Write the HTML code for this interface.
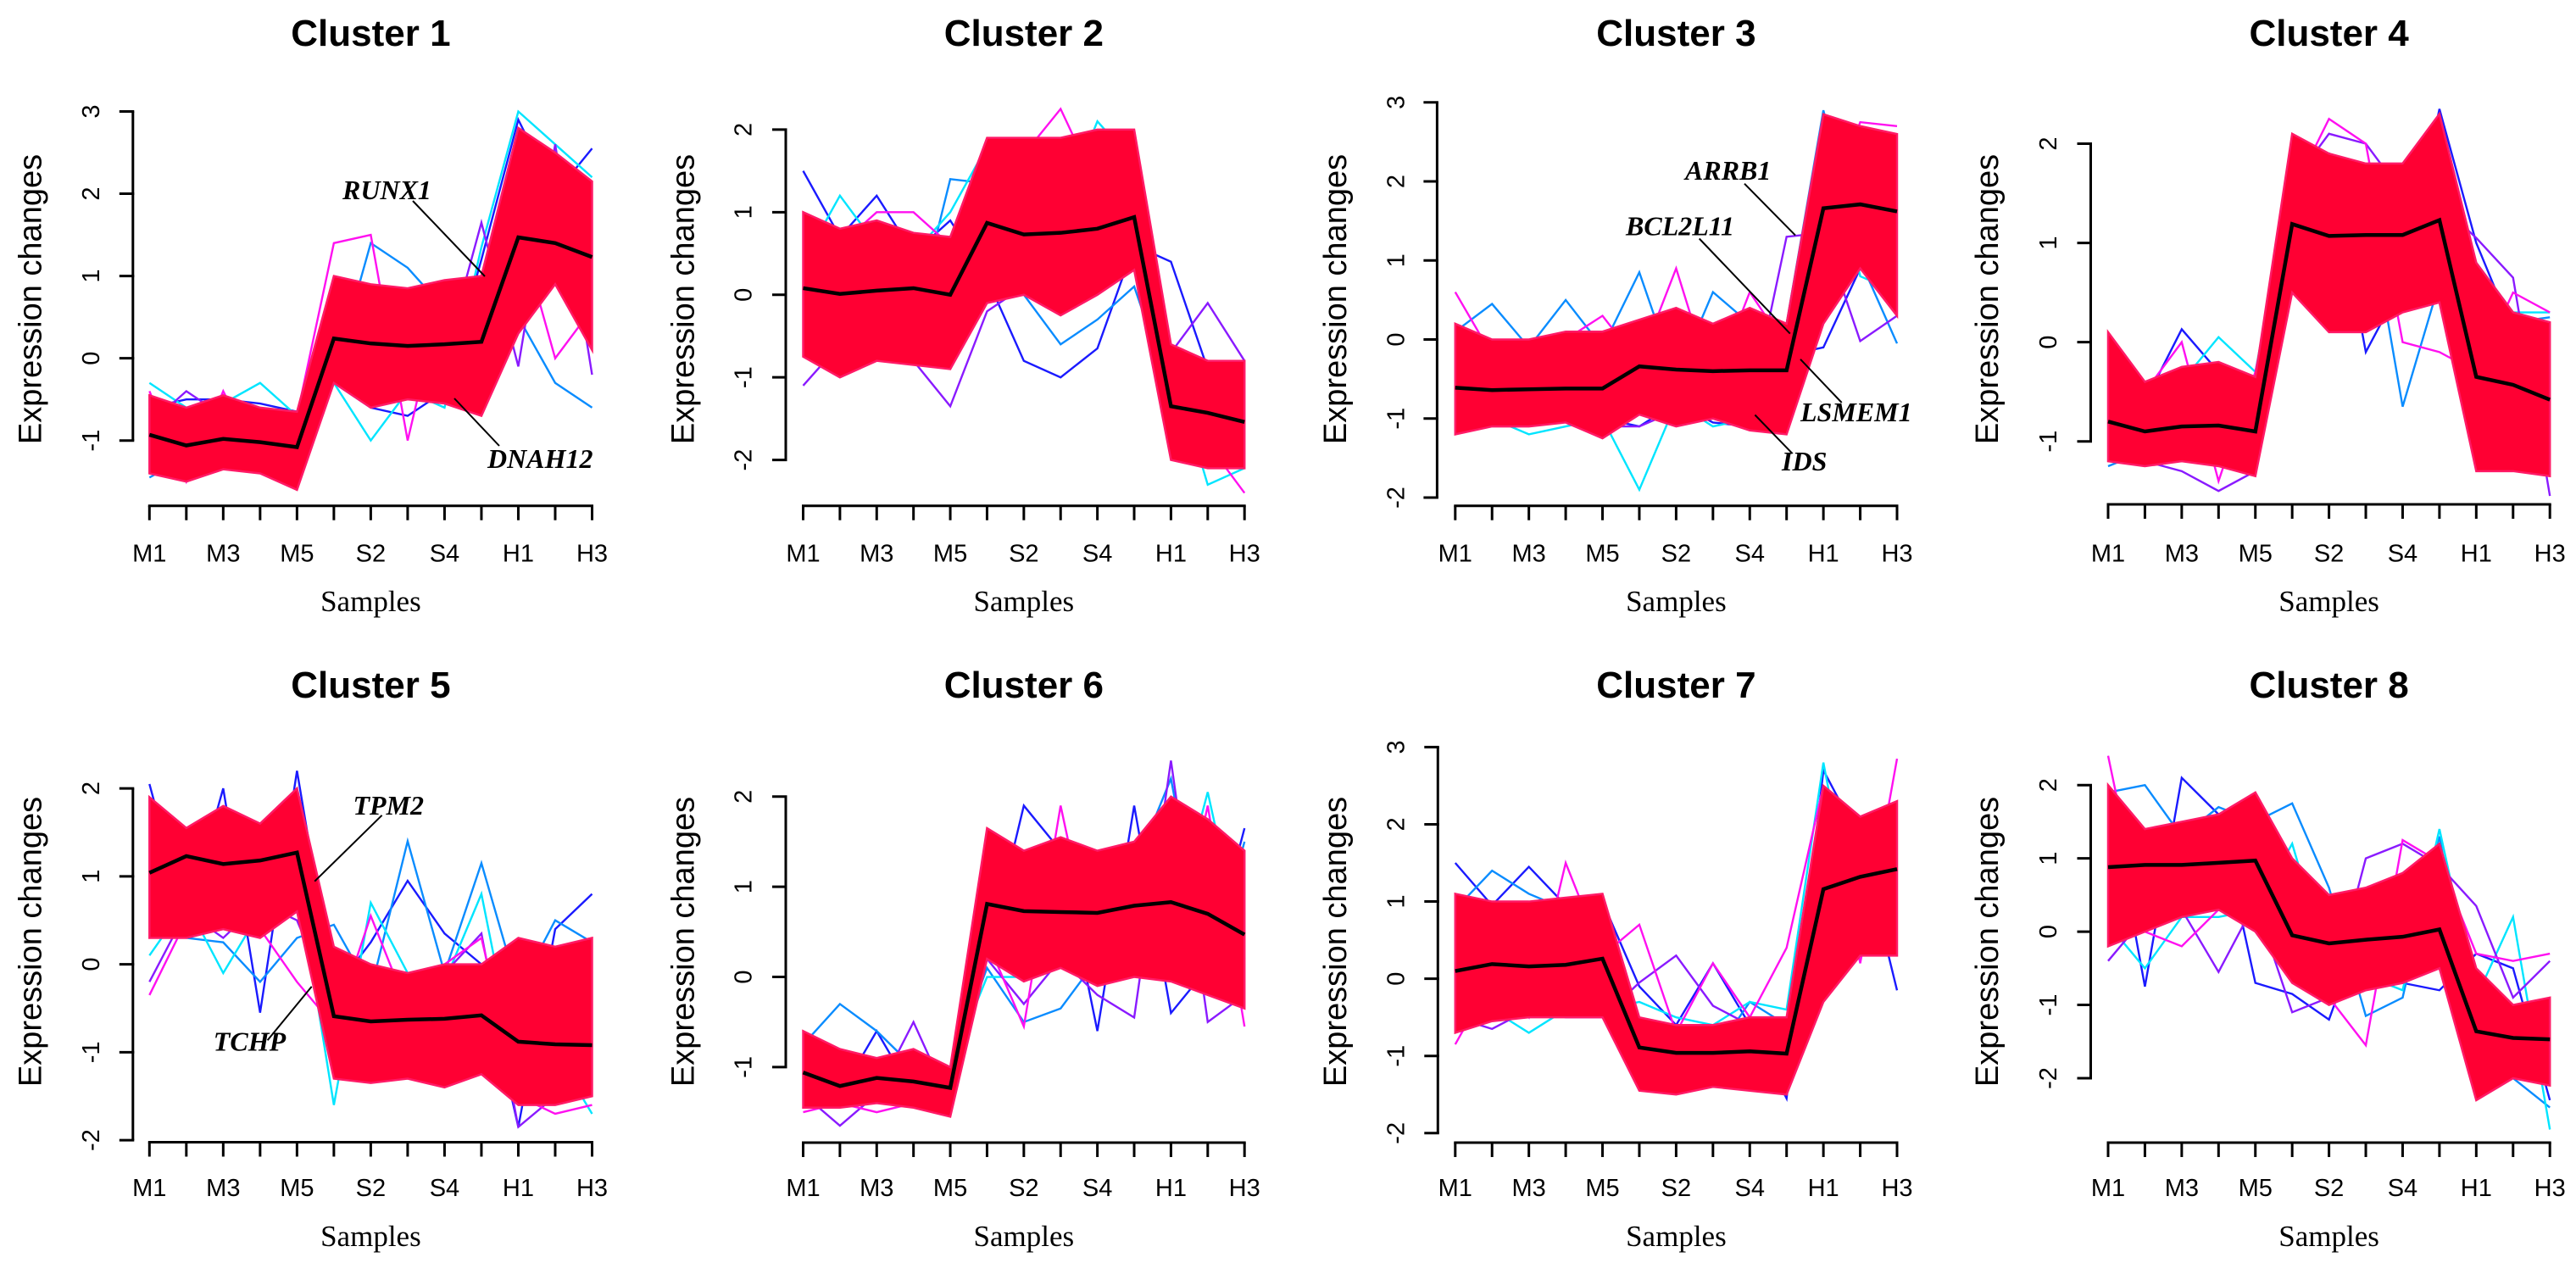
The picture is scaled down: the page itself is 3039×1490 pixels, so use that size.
<!DOCTYPE html>
<html><head><meta charset="utf-8"><title>Expression clusters</title>
<style>
html,body{margin:0;padding:0;background:#fff;}
svg{display:block;}
.ttl{font-family:"Liberation Sans",sans-serif;font-weight:bold;font-size:44px;}
.tk{font-family:"Liberation Sans",sans-serif;font-size:29px;}
.yl{font-family:"Liberation Sans",sans-serif;font-size:38px;}
.xl{font-family:"Liberation Serif",serif;font-size:35px;}
.gene{font-family:"Liberation Serif",serif;font-weight:bold;font-style:italic;font-size:32px;}
</style></head>
<body>
<svg id="chart" width="3039" height="1490" viewBox="0 0 3039 1490" xmlns="http://www.w3.org/2000/svg"></svg>
<script>
const samples = ["M1","M2","M3","M4","M5","S1","S2","S3","S4","S5","H1","H2","H3"];
const clusterNames = ["Cluster 1","Cluster 2","Cluster 3","Cluster 4","Cluster 5","Cluster 6","Cluster 7","Cluster 8"];
const outColors = ["#1a1aff","#0a8cff","#00e5ff","#8a1aff","#ff10f0"];

const c1Mean=[-0.93,-1.06,-0.98,-1.02,-1.08,0.24,0.18,0.15,0.17,0.2,1.47,1.4,1.23];
const c1Hi=[-0.45,-0.6,-0.45,-0.6,-0.65,1.0,0.9,0.85,0.95,1.0,2.8,2.5,2.15];
const c1Lo=[-1.4,-1.5,-1.35,-1.4,-1.6,-0.3,-0.6,-0.5,-0.55,-0.7,0.3,0.9,0.1];
const c1Out=[[-0.6,-0.5,-0.5,-0.55,-0.65,-0.3,-0.6,-0.7,-0.4,1.2,2.9,2.0,2.55],[-1.45,-1.2,-1.3,-1.3,-0.7,-0.2,1.4,1.1,0.6,0.5,0.5,-0.3,-0.6],[-0.3,-0.6,-0.55,-0.3,-0.7,-0.3,-1.0,-0.4,-0.6,1.35,3.0,2.6,2.2],[-0.8,-0.4,-0.7,-0.7,-0.7,-0.3,0.2,-0.2,0.0,1.65,-0.1,2.6,-0.2],[-0.4,-1.5,-0.4,-1.3,-0.7,1.4,1.5,-1.0,0.9,-0.5,1.6,0.0,0.6]];

const c2Mean=[0.08,0.01,0.05,0.08,0.0,0.87,0.73,0.75,0.8,0.94,-1.35,-1.43,-1.54];
const c2Hi=[1.0,0.8,0.9,0.75,0.7,1.9,1.9,1.9,2.0,2.0,-0.6,-0.8,-0.8];
const c2Lo=[-0.75,-1.0,-0.8,-0.85,-0.9,-0.1,0.0,-0.25,0.0,0.3,-2.0,-2.1,-2.1];
const c2Out=[[1.5,0.7,1.2,0.5,0.9,0.2,-0.8,-1.0,-0.65,0.6,0.4,-0.9,-1.0],[0.3,0.6,0.0,-0.4,1.4,1.35,0.0,-0.6,-0.3,0.1,-1.2,-1.5,-2.1],[0.4,1.2,0.6,0.5,1.0,1.8,1.7,1.0,2.1,1.6,-0.8,-2.3,-2.1],[-1.1,-0.6,-0.7,-0.8,-1.35,-0.2,0.1,0.0,0.1,0.5,-0.7,-0.1,-0.8],[0.9,0.6,1.0,1.0,0.6,1.85,1.7,2.25,1.3,1.4,-0.8,-1.8,-2.4]];

const c3Mean=[-0.61,-0.64,-0.63,-0.62,-0.62,-0.34,-0.38,-0.4,-0.39,-0.39,1.66,1.71,1.62];
const c3Hi=[0.2,0.0,0.0,0.1,0.1,0.25,0.4,0.2,0.4,0.2,2.85,2.7,2.6];
const c3Lo=[-1.2,-1.1,-1.1,-1.05,-1.25,-0.95,-1.1,-1.0,-1.15,-1.2,0.2,0.9,0.3];
const c3Out=[[-1.0,-1.0,-0.9,-1.0,-1.0,-1.1,-0.8,-1.05,-1.1,-0.2,-0.1,0.9,0.7],[0.1,0.45,-0.1,0.5,-0.1,0.85,-0.5,0.6,0.2,0.2,2.9,1.0,-0.05],[-1.0,-1.0,-1.2,-1.1,-1.0,-1.9,-0.8,-1.1,-1.0,-0.9,2.8,0.8,0.6],[-1.0,-0.9,-1.0,-1.0,-1.1,-1.1,-0.9,-0.9,-0.9,1.3,1.35,-0.02,0.3],[0.6,-0.2,-0.1,0.0,0.3,-0.3,0.9,-0.6,0.6,-0.1,1.5,2.75,2.7]];

const c4Mean=[-0.8,-0.9,-0.85,-0.84,-0.9,1.19,1.07,1.08,1.08,1.23,-0.35,-0.43,-0.58];
const c4Hi=[0.1,-0.4,-0.25,-0.2,-0.35,2.1,1.9,1.8,1.8,2.3,0.8,0.3,0.2];
const c4Lo=[-1.2,-1.25,-1.2,-1.25,-1.35,0.5,0.1,0.1,0.3,0.4,-1.3,-1.3,-1.35];
const c4Out=[[-1.2,-0.6,0.13,-0.3,-0.5,1.8,1.9,-0.1,0.6,2.35,1.0,0.1,0.2],[-1.25,-1.1,-0.9,-0.6,-1.1,2.0,1.9,1.5,-0.65,0.6,0.5,0.2,0.25],[0.0,-0.5,-0.4,0.05,-0.3,1.7,1.6,0.3,0.8,0.9,0.8,0.3,0.3],[-1.1,-1.2,-1.3,-1.5,-1.3,1.6,2.1,2.0,1.5,1.4,1.05,0.65,-1.55],[0.05,-0.5,0.0,-1.4,-0.3,1.5,2.25,2.0,0.0,-0.1,-0.3,0.5,0.3]];

const c5Mean=[1.04,1.23,1.14,1.18,1.27,-0.59,-0.65,-0.63,-0.62,-0.58,-0.88,-0.91,-0.92];
const c5Hi=[1.9,1.55,1.8,1.6,2.0,0.2,0.0,-0.1,0.0,0.0,0.3,0.2,0.3];
const c5Lo=[0.3,0.3,0.4,0.3,0.6,-1.3,-1.35,-1.3,-1.4,-1.25,-1.6,-1.6,-1.5];
const c5Out=[[2.05,0.5,2.0,-0.55,2.2,-0.3,0.25,0.95,0.35,0.0,-1.85,0.4,0.8],[0.4,0.3,0.25,-0.2,0.3,0.45,-0.3,1.4,-0.1,1.15,-0.3,0.5,0.25],[0.1,0.7,-0.1,0.6,1.0,-1.6,0.7,-0.1,-0.2,0.8,-1.3,-1.0,-1.7],[-0.2,0.6,0.3,0.7,0.5,-0.5,-0.3,-0.2,-0.1,0.35,-1.85,-1.5,-1.5],[-0.35,0.5,0.4,0.4,-0.2,-0.7,0.55,-0.5,0.0,0.3,-1.5,-1.7,-1.6]];

const c6Mean=[-1.06,-1.21,-1.12,-1.16,-1.23,0.81,0.73,0.72,0.71,0.79,0.83,0.7,0.47];
const c6Hi=[-0.6,-0.8,-0.9,-0.8,-1.0,1.65,1.4,1.55,1.4,1.5,2.0,1.75,1.4];
const c6Lo=[-1.45,-1.45,-1.4,-1.45,-1.55,0.2,-0.05,0.1,-0.1,0.0,-0.05,-0.2,-0.35];
const c6Out=[[-1.4,-1.3,-0.6,-1.3,-1.2,0.2,1.9,1.4,-0.6,1.9,-0.4,0.1,1.65],[-0.75,-0.3,-0.6,-1.0,-1.0,0.1,-0.5,-0.35,0.2,1.2,2.2,0.0,1.5],[-0.7,-1.0,-0.9,-1.0,-1.0,0.0,0.0,0.1,0.2,0.2,0.5,2.05,0.2],[-1.3,-1.65,-1.3,-0.5,-1.4,0.2,-0.3,0.2,-0.2,-0.45,2.4,-0.5,-0.2],[-1.5,-1.4,-1.5,-1.4,-1.5,0.4,-0.55,1.9,0.0,1.0,0.0,1.9,-0.55]];

const c7Mean=[0.1,0.19,0.16,0.18,0.26,-0.89,-0.96,-0.96,-0.94,-0.97,1.16,1.32,1.42];
const c7Hi=[1.1,1.0,1.0,1.05,1.1,-0.5,-0.6,-0.6,-0.5,-0.5,2.5,2.1,2.3];
const c7Lo=[-0.7,-0.55,-0.5,-0.5,-0.5,-1.45,-1.5,-1.4,-1.45,-1.5,-0.3,0.3,0.3];
const c7Out=[[1.5,0.95,1.45,0.95,1.0,-0.1,-0.6,0.2,-0.6,-1.55,2.7,1.8,-0.15],[0.9,1.4,1.1,0.9,0.8,-1.4,-0.7,-1.0,-0.3,-0.6,2.2,2.0,2.1],[0.5,-0.4,-0.7,-0.4,-0.4,-0.3,-0.5,-0.6,-0.3,-0.4,2.8,0.3,1.0],[-0.5,-0.65,-0.4,-0.5,-0.5,-0.05,0.3,-0.35,-0.6,-0.6,1.6,1.0,0.3],[-0.85,0.0,-0.5,1.5,0.3,0.7,-0.7,0.2,-0.5,0.4,2.5,0.2,2.85]];

const c8Mean=[0.88,0.91,0.91,0.94,0.97,-0.05,-0.16,-0.11,-0.07,0.03,-1.36,-1.45,-1.47];
const c8Hi=[2.0,1.4,1.5,1.6,1.9,1.0,0.5,0.6,0.8,1.2,-0.5,-1.0,-0.9];
const c8Lo=[-0.2,0.0,0.2,0.3,0.0,-0.7,-1.0,-0.8,-0.7,-0.5,-2.3,-2.0,-2.1];
const c8Out=[[2.0,-0.75,2.1,1.6,-0.7,-0.85,-1.2,0.2,-0.7,-0.8,-0.3,-0.5,-2.3],[1.9,2.0,1.3,1.7,1.5,1.75,0.6,-1.15,-0.9,1.3,-1.5,-2.0,-2.4],[0.1,-0.5,0.2,0.2,0.3,1.2,-0.5,-0.6,-0.8,1.4,-0.9,0.2,-2.7],[-0.4,0.2,0.3,-0.55,0.4,-1.1,-0.9,1.0,1.2,0.9,0.35,-0.9,-0.4],[2.4,0.0,-0.2,0.3,0.6,-0.3,-0.9,-1.55,1.25,0.95,-0.3,-0.4,-0.3]];

const meanSeries=[c1Mean,c2Mean,c3Mean,c4Mean,c5Mean,c6Mean,c7Mean,c8Mean];
const hiSeries=[c1Hi,c2Hi,c3Hi,c4Hi,c5Hi,c6Hi,c7Hi,c8Hi];
const loSeries=[c1Lo,c2Lo,c3Lo,c4Lo,c5Lo,c6Lo,c7Lo,c8Lo];
const outSeries=[c1Out,c2Out,c3Out,c4Out,c5Out,c6Out,c7Out,c8Out];
const yTickMin=[-1,-2,-2,-1,-2,-1,-2,-2];
const yTickMax=[3,2,3,2,2,2,3,2];

// layout (pixels)
const L=[
 {x0:176.3,x1:698.5,ax:156.8,yA:[3,131.5],yB:[-1,519.7],xa:596.7,tl:54,tkb:662.5,ylx:48.7,ylc:353,ytx:117,xlb:721},
 {x0:947.5,x1:1468.2,ax:927,yA:[2,152.9],yB:[-2,542.6],xa:596.7,tl:54,tkb:662.5,ylx:818.5,ylc:353,ytx:886.6,xlb:721},
 {x0:1716.8,x1:2238,ax:1695.4,yA:[3,120.8],yB:[-2,587],xa:596.7,tl:54,tkb:662.5,ylx:1588,ylc:353,ytx:1656.4,xlb:721},
 {x0:2487,x1:3008.2,ax:2466.5,yA:[2,169.5],yB:[-1,520.7],xa:595,tl:54,tkb:662.5,ylx:2357,ylc:353,ytx:2426,xlb:721},
 {x0:176.3,x1:698.5,ax:156.8,yA:[2,930.1],yB:[-2,1345.1],xa:1347.5,tl:823,tkb:1411,ylx:48.7,ylc:1111,ytx:117,xlb:1470},
 {x0:947.5,x1:1468.2,ax:927,yA:[2,939.8],yB:[-1,1258.9],xa:1348,tl:823,tkb:1411,ylx:818.5,ylc:1111,ytx:886.6,xlb:1470},
 {x0:1716.8,x1:2238,ax:1696.3,yA:[3,881.4],yB:[-2,1336.8],xa:1348,tl:823,tkb:1411,ylx:1588,ylc:1111,ytx:1656.4,xlb:1470},
 {x0:2487,x1:3008.2,ax:2466.5,yA:[2,926.2],yB:[-2,1272],xa:1348,tl:823,tkb:1411,ylx:2357,ylc:1111,ytx:2426,xlb:1470}
];

const NS="http://www.w3.org/2000/svg";
const svg=document.getElementById('chart');
function mk(tag,parent){const e=document.createElementNS(NS,tag);parent.appendChild(e);return e;}

for(let p=0;p<8;p++){
  const c=L[p];
  const g=mk('g',svg);
  
  
  const xs=i=>c.x0+i*(c.x1-c.x0)/(samples.length-1);
  const ys=v=>c.yA[1]+(v-c.yA[0])*(c.yB[1]-c.yA[1])/(c.yB[0]-c.yA[0]);
  // outlier lines (drawn beneath the dense red bundle)
  outSeries[p].forEach((s,k)=>{
    const l=mk('polyline',g);
    l.setAttribute('points',s.map((v,i)=>xs(i)+','+ys(v)).join(' '));
    l.setAttribute('fill','none');
    l.setAttribute('stroke',outColors[k%outColors.length]);
    l.setAttribute('stroke-width','2.4');
    
    
  });
  // band
  let pts=[];
  hiSeries[p].forEach((v,i)=>pts.push(xs(i)+','+ys(v)));
  for(let i=loSeries[p].length-1;i>=0;i--) pts.push(xs(i)+','+ys(loSeries[p][i]));
  const band=mk('polygon',g);
  band.setAttribute('points',pts.join(' '));
  band.setAttribute('fill','#ff0033');
  band.setAttribute('stroke','#ff1a66');
  band.setAttribute('stroke-width','2.5');
  band.setAttribute('stroke-linejoin','miter');
  
  
  // mean
  const m=mk('polyline',g);
  m.setAttribute('points',meanSeries[p].map((v,i)=>xs(i)+','+ys(v)).join(' '));
  m.setAttribute('fill','none');m.setAttribute('stroke','#000');m.setAttribute('stroke-width','4.5');
  
  
  // y axis
  const ya=mk('line',g);
  ya.setAttribute('x1',c.ax);ya.setAttribute('x2',c.ax);
  ya.setAttribute('y1',ys(yTickMax[p]));ya.setAttribute('y2',ys(yTickMin[p]));
  ya.setAttribute('stroke','#000');ya.setAttribute('stroke-width','3');
  
  
  for(let v=yTickMin[p];v<=yTickMax[p];v++){
    const t=mk('line',g);
    t.setAttribute('x1',c.ax-16);t.setAttribute('x2',c.ax+1.5);t.setAttribute('y1',ys(v));t.setAttribute('y2',ys(v));
    t.setAttribute('stroke','#000');t.setAttribute('stroke-width','3');
    
    
    const tx=mk('text',g);
    tx.setAttribute('class','tk');tx.setAttribute('text-anchor','middle');
    tx.setAttribute('transform','translate('+c.ytx+','+ys(v)+') rotate(-90)');
    tx.textContent=String(v);
    
    
  }
  // x axis
  const xa=mk('line',g);
  xa.setAttribute('x1',c.x0-1.5);xa.setAttribute('x2',c.x1+1.5);xa.setAttribute('y1',c.xa);xa.setAttribute('y2',c.xa);
  xa.setAttribute('stroke','#000');xa.setAttribute('stroke-width','3');
  
  
  samples.forEach((s,i)=>{
    const t=mk('line',g);
    t.setAttribute('x1',xs(i));t.setAttribute('x2',xs(i));t.setAttribute('y1',c.xa);t.setAttribute('y2',c.xa+17);
    t.setAttribute('stroke','#000');t.setAttribute('stroke-width','3');
    
    
    if(i%2===0){
      const tx=mk('text',g);
      tx.setAttribute('class','tk');tx.setAttribute('text-anchor','middle');
      tx.setAttribute('x',xs(i));tx.setAttribute('y',c.tkb);
      tx.textContent=s;
      
      
    }
  });
  const mid=(c.x0+c.x1)/2;
  const tt=mk('text',g);
  tt.setAttribute('class','ttl');tt.setAttribute('text-anchor','middle');tt.setAttribute('x',mid);tt.setAttribute('y',c.tl);
  tt.textContent=clusterNames[p];
  
  
  const xl=mk('text',g);
  xl.setAttribute('class','xl');xl.setAttribute('text-anchor','middle');xl.setAttribute('x',mid);xl.setAttribute('y',c.xlb);
  xl.textContent='Samples';
  
  
  const yl=mk('text',g);
  yl.setAttribute('class','yl');yl.setAttribute('text-anchor','middle');
  yl.setAttribute('transform','translate('+c.ylx+','+c.ylc+') rotate(-90)');
  yl.textContent='Expression changes';
  
  
}

// gene annotations
const geneNames=["RUNX1","DNAH12","ARRB1","BCL2L11","LSMEM1","IDS","TPM2","TCHP"];
const geneText=[[404,235],[575,552],[1988,212],[1918,277.6],[2124,496.8],[2102,555],[416.5,960.8],[251.8,1239.4]];
const geneLines=[[487,237,572,326],[536,470,589,526],[2058,216.7,2118,277.6],[2004.7,281.5,2111.8,393.6],[2124,423.8,2172.7,475],[2070.4,489.5,2114.3,534.8],[450.6,961.8,371.2,1039.7],[315.6,1227.2,367.7,1163.9]];
geneNames.forEach((n,i)=>{
  const l=mk('line',svg);
  l.setAttribute('x1',geneLines[i][0]);l.setAttribute('y1',geneLines[i][1]);
  l.setAttribute('x2',geneLines[i][2]);l.setAttribute('y2',geneLines[i][3]);
  l.setAttribute('stroke','#000');l.setAttribute('stroke-width','2');
  
  
  const t=mk('text',svg);
  t.setAttribute('class','gene');t.setAttribute('x',geneText[i][0]);t.setAttribute('y',geneText[i][1]);
  t.textContent=n;
  
  
});
</script>
</body></html>
